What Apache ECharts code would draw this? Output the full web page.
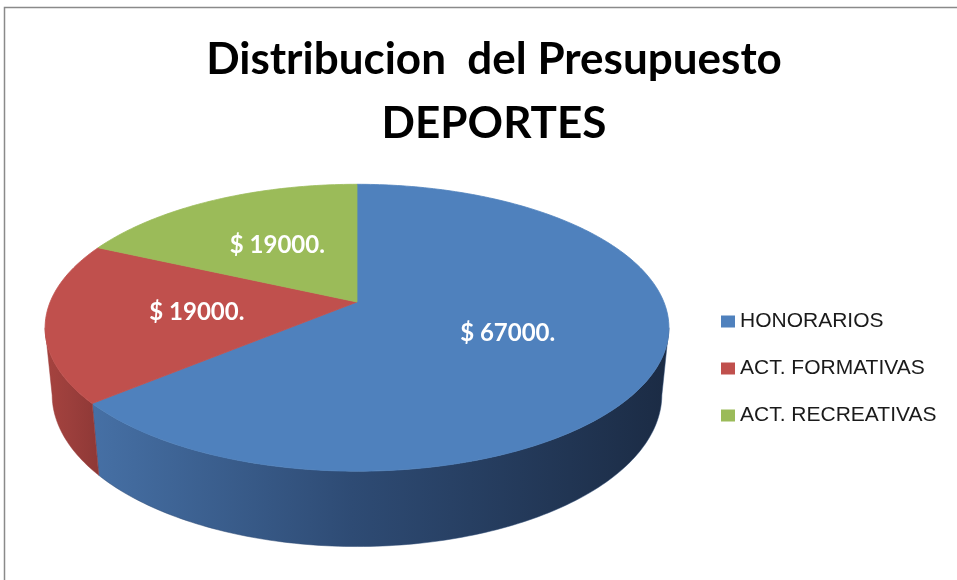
<!DOCTYPE html>
<html>
<head>
<meta charset="utf-8">
<script src="https://cdn.jsdelivr.net/npm/echarts@6.0.0/dist/echarts.min.js"></script>
<style>
  html, body { margin: 0; padding: 0; background: #fff; }
  #pie-chart { width: 957px; height: 580px; }
</style>
</head>
<body>
<div id="pie-chart"></div>
<script>
// datos del grafico
var categorias = ['HONORARIOS', 'ACT. FORMATIVAS', 'ACT. RECREATIVAS'];
var montos = [67000, 19000, 19000];

var colores = ['#4f81bd', '#c0504d', '#9bbb59'];
var coloresLado = [
  ['#4670a5', '#2e4b74', '#1b2b44'],
  ['#a6433f', '#9c3f3c', '#8e3836'],
  ['#86a34b', '#7b9645', '#6d853d']
];

var total = montos.reduce(function(a, b) { return a + b; }, 0);
var inicios = [];
var acum = 0;
for (var i = 0; i < montos.length; i++) {
  inicios.push(acum);
  acum += montos[i];
}

// proyeccion en perspectiva del pastel 3d
var CX = 357, CY = 302, F = 1525, D = 4.97, ALTO = 0.246;
var INCL = 26.9 * Math.PI / 180;
var SA = Math.sin(INCL), CA = Math.cos(INCL);
var LIM = Math.acos(-CA / D) * 180 / Math.PI; // borde visible del lateral

function proj(ang, r, y) {
  var t = ang * Math.PI / 180;
  var X = r * Math.sin(t), Z = r * Math.cos(t);
  var d = D + CA * Z - SA * y;
  var up = CA * y + SA * Z;
  return [CX + F * X / d, CY - F * up / d];
}

function arco(a0, a1, y) {
  var pts = [];
  var n = Math.max(2, Math.ceil(Math.abs(a1 - a0)));
  for (var k = 0; k <= n; k++) {
    pts.push(proj(a0 + (a1 - a0) * k / n, 1, y));
  }
  return pts;
}

function dibujar(idx) {
  return function(params, api) {
    var v = api.value(0), ini = api.value(1);
    var a0 = ini / total * 360, a1 = (ini + v) / total * 360;
    var hijos = [];

    var w0 = Math.max(a0, LIM), w1 = Math.min(a1, 360 - LIM);
    if (w1 > w0) {
      var lado = arco(w0, w1, 0).concat(arco(w1, w0, -ALTO));
      var c = coloresLado[idx];
      hijos.push({
        type: 'polygon',
        shape: { points: lado },
        style: {
          fill: new echarts.graphic.LinearGradient(0, 0, 1, 0, [
            { offset: 0, color: c[0] },
            { offset: 0.45, color: c[1] },
            { offset: 1, color: c[2] }
          ]),
          stroke: c[1],
          lineWidth: 0.5
        }
      });
    }

    var tapa = [proj(0, 0, 0)].concat(arco(a0, a1, 0));
    hijos.push({
      type: 'polygon',
      shape: { points: tapa },
      style: { fill: colores[idx], stroke: colores[idx], lineWidth: 0.8 }
    });

    var p = proj((a0 + a1) / 2, 0.52, 0);
    hijos.push({
      type: 'text',
      x: p[0],
      y: p[1],
      style: {
        text: '$ ' + v + '.',
        fill: '#ffffff',
        font: 'bold 24px Lato',
        align: 'center',
        verticalAlign: 'middle'
      }
    });
    return { type: 'group', children: hijos };
  };
}

var myChart = echarts.init(document.getElementById('pie-chart'));

myChart.setOption({
  animation: false,
  backgroundColor: '#ffffff',
  title: {
    text: 'Distribucion  del Presupuesto\nDEPORTES',
    left: 489,
    top: 23,
    textAlign: 'center',
    textStyle: {
      fontFamily: 'Lato',
      fontWeight: 'bold',
      fontSize: 44,
      lineHeight: 64,
      color: '#000000'
    }
  },
  legend: {
    orient: 'vertical',
    left: 716,
    top: 306,
    icon: 'rect',
    itemWidth: 14,
    itemHeight: 12,
    itemGap: 26,
    textStyle: {
      fontFamily: 'Liberation Sans',
      fontSize: 21,
      color: '#1a1a1a'
    },
    data: categorias
  },
  graphic: [
    {
      type: 'rect',
      silent: true,
      z: -10,
      shape: { x: 4.5, y: 7.5, width: 1000, height: 1000 },
      style: { fill: 'none', stroke: '#8a8a8a', lineWidth: 1.5 }
    }
  ],
  series: categorias.map(function(nombre, i) {
    return {
      type: 'custom',
      name: nombre,
      coordinateSystem: 'none',
      itemStyle: { color: colores[i] },
      data: [[montos[i], inicios[i]]],
      renderItem: dibujar(i)
    };
  })
});
</script>
</body>
</html>
